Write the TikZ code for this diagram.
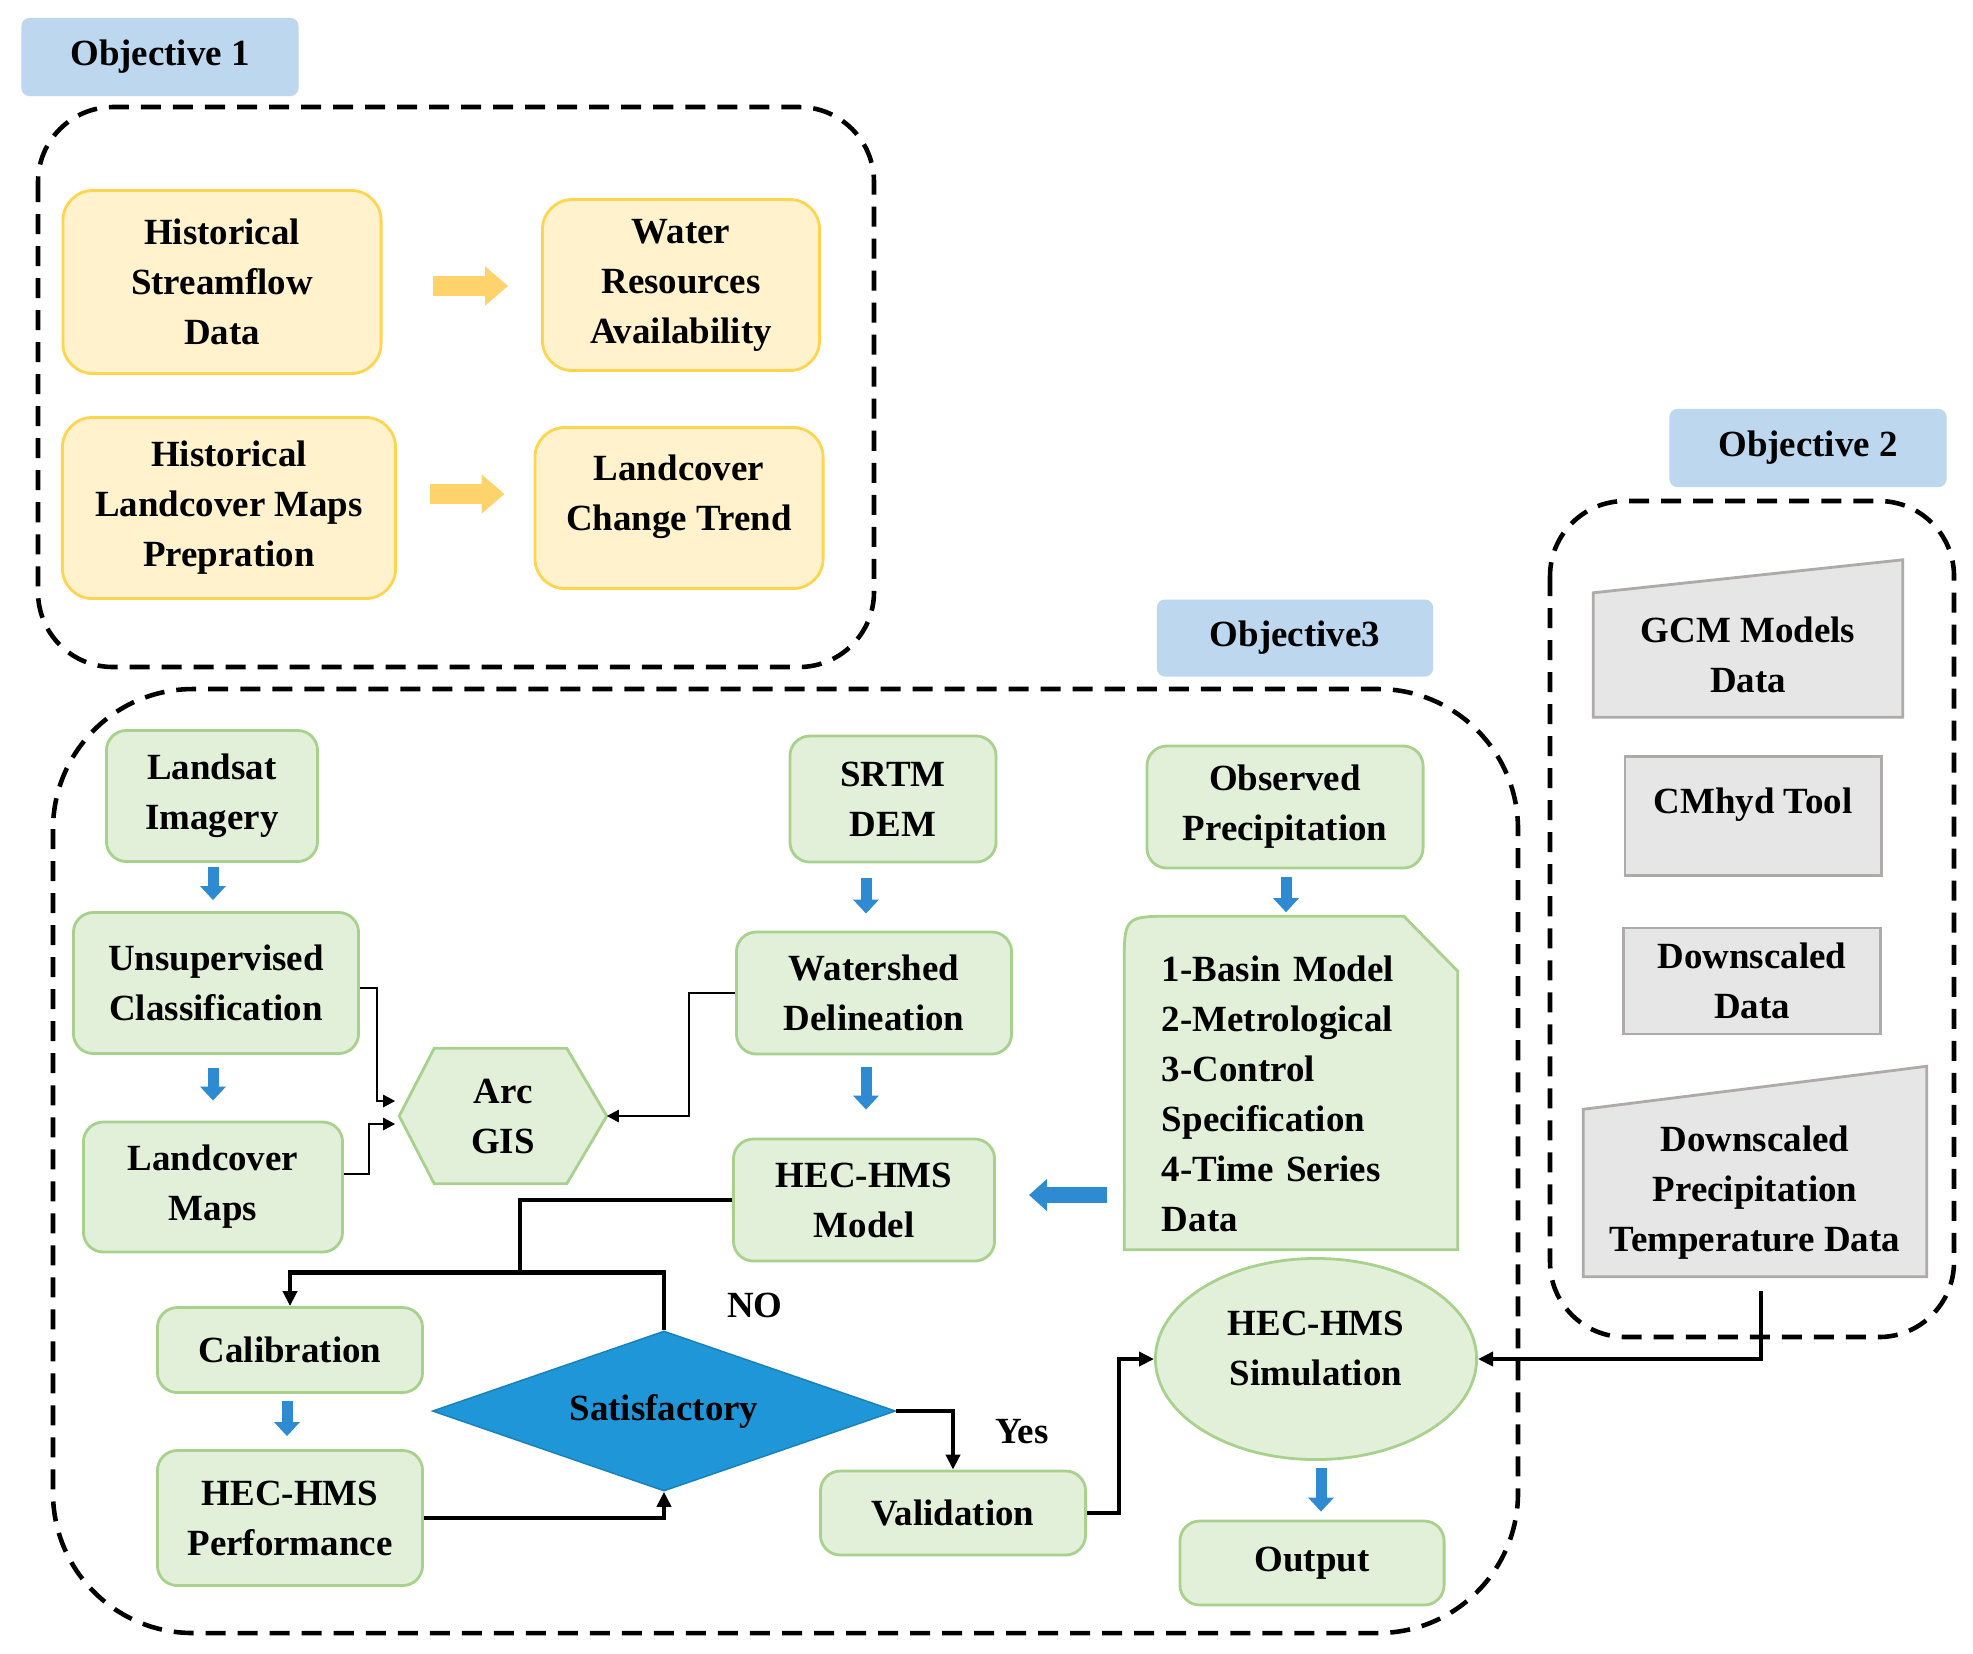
\documentclass[tikz,border=0pt]{standalone}
\usepackage{fontspec}
\setmainfont{Liberation Serif}
\usepackage{tikz}
\usetikzlibrary{arrows.meta,shapes.geometric,calc,backgrounds}
\definecolor{grfill}{HTML}{E2F0D9}
\definecolor{grline}{HTML}{A9D18E}
\definecolor{yefill}{HTML}{FFF2CC}
\definecolor{yeline}{HTML}{FFD54F}
\definecolor{yearrow}{HTML}{FFD36B}
\definecolor{gyfill}{HTML}{E7E6E6}
\definecolor{gyline}{HTML}{AEAAAA}
\definecolor{objfill}{HTML}{BDD7EE}
\definecolor{arblue}{HTML}{2E8BD2}
\definecolor{dmblue}{HTML}{1E96D8}
\tikzstyle{txt}=[font=\fontsize{10.5}{14.2}\selectfont\bfseries, align=center, inner sep=0pt]
\tikzstyle{greenbox}=[txt, draw=grline, fill=grfill, line width=0.8pt, rounded corners=0.2cm]
\tikzstyle{greenshape}=[draw=grline, fill=grfill, line width=0.8pt]
\tikzstyle{yellowbox}=[txt, draw=yeline, fill=yefill, line width=0.8pt, rounded corners=0.3cm]
\tikzstyle{greyshape}=[draw=gyline, fill=gyfill, line width=0.8pt]
\tikzstyle{objlabel}=[txt, fill=objfill, rounded corners=0.08cm]
\tikzstyle{dashbox}=[line width=1.3pt, dash pattern=on 0.2cm off 0.12cm]
\tikzstyle{blockarrow}=[line width=0.11cm, arblue, -{Triangle[width=0.25cm,length=0.14cm]}]
\tikzstyle{yellowarrow}=[line width=0.2cm, yearrow, -{Triangle[width=0.38cm,length=0.23cm]}]
\tikzstyle{thinarrow}=[line width=0.7pt, -{Triangle[width=0.12cm,length=0.12cm]}]
\tikzstyle{flowline}=[line width=1.3pt]
\tikzstyle{flowarrow}=[line width=1.3pt, -{Triangle[width=0.14cm,length=0.15cm]}]
\newcommand{\manualIn}[2]{
	\draw[greyshape] (#1.south west) -- (#1.north west) -- ($(#1.north east)+(0,-#2)$) -- (#1.south east) -- cycle;
}
\begin{document}
\begin{tikzpicture}[x=0.01cm, y=-0.01cm]
	\useasboundingbox (0,0) rectangle (1973,1653);
	\draw[dashbox, rounded corners=0.75cm] (38,107) rectangle (874,667);
	\draw[dashbox, rounded corners=0.75cm] (1550,501) rectangle (1954,1337);
	\draw[dashbox, rounded corners=1.4cm] (53,689) rectangle (1518,1633);
	\node[objlabel, minimum width=2.77cm, minimum height=0.78cm] (obj1) at (160,57) {Objective 1};
	\node[objlabel, minimum width=2.77cm, minimum height=0.78cm] (obj2) at (1808,448) {Objective 2};
	\node[objlabel, minimum width=2.76cm, minimum height=0.77cm] (obj3) at (1295,638) {Objective3};

	\node[yellowbox, minimum width=3.18cm, minimum height=1.83cm] (hsd) at (222,282) {Historical\\Streamflow\\Data};
	\node[yellowbox, minimum width=2.77cm, minimum height=1.71cm] (wra) at (681,285) {Water\\Resources\\Availability};
	\node[yellowbox, minimum width=3.33cm, minimum height=1.81cm] (hlm) at (229,508) {Historical\\Landcover Maps\\Prepration};
	\node[yellowbox, minimum width=2.88cm, minimum height=1.61cm, text depth=0.3cm] (lct) at (679,508) {Landcover\\Change Trend};
	\draw[yellowarrow] ($(hsd.east)+(50,4)$) -- ($(wra.west |- hsd.east)+(-33,4)$);
	\draw[yellowarrow] ($(hlm.east)+(33,-14)$) -- ($(lct.west |- hlm.east)+(-29,-14)$);

	\node[txt, minimum width=3.08cm, minimum height=1.23cm] (gcm) at (1748,655) {GCM Models\\Data};
	\node[txt, minimum width=2.56cm, minimum height=1.19cm, text depth=0.3cm, draw=gyline, fill=gyfill, line width=0.8pt] (cmhyd) at (1753,816) {CMhyd Tool};
	\node[txt, minimum width=2.57cm, minimum height=1.06cm, draw=gyline, fill=gyfill, line width=0.8pt] (dd) at (1752,981) {Downscaled\\Data};
	\node[txt, minimum width=3.42cm, minimum height=1.66cm] (dpt) at (1755,1193) {Downscaled\\Precipitation\\Temperature Data};

	\node[greenbox, minimum width=2.11cm, minimum height=1.31cm] (landsat) at (212,796) {Landsat\\Imagery};
	\node[greenbox, minimum width=2.85cm, minimum height=1.41cm] (unsup) at (216,983) {Unsupervised\\Classification};
	\node[greenbox, minimum width=2.59cm, minimum height=1.30cm] (lcm) at (213,1187) {Landcover\\Maps};
	\node[txt, minimum width=2.06cm, minimum height=1.34cm] (arcgis) at (503,1116) {Arc\\GIS};
	\node[greenbox, minimum width=2.06cm, minimum height=1.26cm] (srtm) at (893,799) {SRTM\\DEM};
	\node[greenbox, minimum width=2.75cm, minimum height=1.22cm] (ws) at (874,993) {Watershed\\Delineation};
	\node[greenbox, minimum width=2.61cm, minimum height=1.22cm] (model) at (864,1200) {HEC-HMS\\Model};
	\node[greenbox, minimum width=2.76cm, minimum height=1.22cm] (obs) at (1285,807) {Observed\\Precipitation};
	\node[txt, align=left, text width=2.58cm, text height=0.47cm, minimum width=3.32cm, minimum height=3.32cm] (series) at (1291,1083) {1-Basin Model\\2-Metrological\\3-Control\\Specification\\4-Time Series\\Data};
	\node[greenbox, minimum width=2.65cm, minimum height=0.85cm] (calib) at (290,1350) {Calibration};
	\node[greenbox, minimum width=2.65cm, minimum height=1.35cm] (perf) at (290,1518) {HEC-HMS\\Performance};
	\node[txt, diamond, aspect=2.9, fill=dmblue, draw=dmblue!85!black, line width=0.4pt, minimum width=4.63cm, minimum height=1.6cm] (sat) at (664,1411) {Satisfactory};
	\node[greenbox, minimum width=2.65cm, minimum height=0.84cm] (valid) at (953,1513) {Validation};
	\node[txt, ellipse, greenshape, minimum width=3.21cm, minimum height=2.01cm, text depth=0.22cm] (sim) at (1316,1359) {HEC-HMS\\Simulation};
	\node[greenbox, minimum width=2.64cm, minimum height=0.84cm] (out) at (1312,1563) {Output};
	\node[txt] (no) at (755,1305) {NO};
	\node[txt] (yes) at (1022,1432) {Yes};

	\begin{scope}[on background layer]
		\manualIn{gcm}{33}
		\manualIn{dpt}{43}
		\draw[greenshape] (arcgis.west) -- ($(arcgis.north west)+(35,0)$) -- ($(arcgis.north east)+(-40,0)$) -- (arcgis.east) -- ($(arcgis.south east)+(-40,0)$) -- ($(arcgis.south west)+(35,0)$) -- cycle;
		\draw[greenshape] (series.south west) -- ($(series.north west)+(0,50)$) .. controls (series.north west) .. ($(series.north west)+(50,0)$) -- ($(series.north east)+(-54,0)$) -- ($(series.north east)+(0,55)$) -- (series.south east) -- cycle;
	\end{scope}

	\draw[blockarrow] ($(landsat.south)+(1,4)$) -- ($(landsat.south |- unsup.north)+(1,-11)$);
	\draw[blockarrow] ($(unsup.south)+(-3,13)$) -- ($(unsup.south |- lcm.north)+(-3,-20)$);
	\draw[blockarrow] ($(srtm.south -| ws.north)+(-8,15)$) -- ($(ws.north)+(-8,-17)$);
	\draw[blockarrow] ($(ws.south -| model.north)+(2,12)$) -- ($(model.north)+(2,-28)$);
	\draw[blockarrow] ($(obs.south)+(1,8)$) -- ($(obs.south |- series.north)+(1,-4)$);
	\draw[blockarrow] ($(calib.south)+(-3,7)$) -- ($(calib.south |- perf.north)+(-3,-13)$);
	\draw[blockarrow] ($(sim.south)+(5,7)$) -- ($(sim.south |- out.north)+(5,-8)$);
	\draw[blockarrow, line width=0.16cm, -{Triangle[width=0.31cm,length=0.18cm]}] ($(series.west |- model.east)+(-17,-5)$) -- ($(model.east)+(33,-5)$);

	\draw[thinarrow] ($(unsup.east)+(0,5)$) -- ++(17,0) |- ($(arcgis.west)+(-4,-15)$);
	\draw[thinarrow] ($(lcm.east)+(0,-13)$) -- ++(25,0) |- ($(arcgis.west)+(-4,8)$);
	\draw[thinarrow] (ws.west) -- ++(-46,0) |- (arcgis.east);

	\coordinate (split) at (520,1273);
	\draw[flowline] (model.west) -| (split);
	\draw[flowarrow] (sat.north) -- ++(0,-58) -| (calib.north);
	\draw[flowarrow] (sat.east) -| (valid.north);
	\draw[flowarrow] (perf.east) -| (sat.south);
	\draw[flowarrow] (valid.east) -- ++(32,0) |- (sim.west);
	\draw[flowarrow] ($(dpt.south)+(6,14)$) |- (sim.east);
\end{tikzpicture}
\end{document}
